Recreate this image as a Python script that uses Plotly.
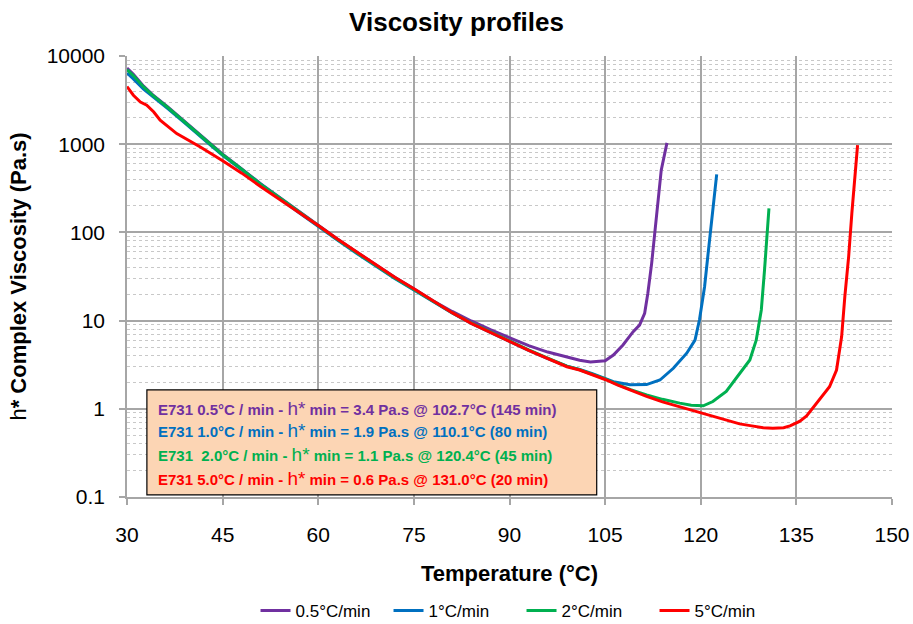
import plotly.graph_objects as go

# ---------------- data ----------------
t_05 = [30, 31, 32.6, 34, 36.3, 39, 41.5, 43, 45, 48, 51, 54, 57, 60, 63, 66, 69, 72, 75,
        78, 81, 84, 87, 90, 93, 96, 98.9, 101, 102.7, 104, 105, 106.3, 107.8, 109.4, 110.4,
        111.2, 111.7, 112.3, 112.8, 113.3, 113.8, 114.7]
eta_05 = [7300, 6200, 4550, 3650, 2680, 1820, 1260, 1010, 770, 525, 355, 248, 172, 119, 84, 60, 43, 31, 23,
          16.8, 12.7, 9.9, 7.9, 6.4, 5.2, 4.4, 3.9, 3.55, 3.4, 3.42, 3.5, 4.07, 5.3, 7.5, 8.9,
          12.1, 20.4, 44.6, 106, 253, 508, 1035]

t_1 = [30, 31, 32.6, 34, 36.3, 39, 41.5, 43, 45, 48, 51, 54, 57, 60, 63, 66, 69, 72, 75,
       78, 81, 84, 87, 90, 93, 96, 99, 101, 103, 105, 106.3, 108.9, 110.1, 111.5, 113.6,
       115.7, 117.8, 119.1, 119.8, 120.6, 121.1, 121.7, 122.1, 122.5]
eta_1 = [6400, 5500, 4200, 3450, 2560, 1760, 1220, 990, 750, 512, 345, 240, 167, 116, 82, 58, 41.5, 30, 22.2,
         16.3, 12.2, 9.3, 7.3, 5.8, 4.6, 3.7, 3.05, 2.8, 2.5, 2.22, 2.03, 1.87, 1.86, 1.88, 2.12,
         2.88, 4.27, 6.0, 10.2, 24.2, 53, 126, 253, 454]

t_2 = [30, 31, 32.6, 34, 36.3, 39, 41.5, 43, 45, 48, 51, 54, 57, 60, 63, 66, 69, 72, 75,
       78, 81, 84, 87, 90, 93, 96, 99, 101, 103, 105, 107, 109, 111.5, 114, 116.7, 118.5,
       120.4, 121.9, 124.0, 126.1, 127.7, 128.7, 129.5, 130.0, 130.4, 130.7]
eta_2 = [7000, 6000, 4460, 3600, 2640, 1800, 1250, 1000, 760, 520, 350, 245, 170, 118, 83, 59, 42, 30.5, 22.5,
         16.5, 12.3, 9.4, 7.4, 5.9, 4.65, 3.75, 3.05, 2.77, 2.47, 2.18, 1.88, 1.65, 1.44, 1.28, 1.16, 1.1,
         1.08, 1.21, 1.57, 2.53, 3.58, 6.0, 13.2, 37, 97.5, 187]

t_5 = [30, 31, 32.1, 33.1, 34.2, 35.2, 37.8, 41.5, 45, 48, 51, 54, 57, 60, 63, 66, 69, 72, 75,
       78, 81, 84, 87, 90, 93, 96, 99, 101, 103, 105, 107, 109, 111.5, 114, 116.7, 119, 121.9,
       124, 126.1, 128, 129.8, 131.3, 133, 134, 135.5, 136.6, 137.7, 138.7, 140.2, 141.3,
       142.1, 142.6, 143.2, 143.7, 144.2, 144.6]
eta_5 = [4500, 3590, 3010, 2770, 2320, 1870, 1320, 930, 650, 470, 330, 236, 167, 120, 84, 60, 43, 31, 23,
         16.7, 12.3, 9.3, 7.3, 5.8, 4.6, 3.7, 3.0, 2.75, 2.45, 2.15, 1.85, 1.62, 1.38, 1.2, 1.06, 0.95, 0.83,
         0.75, 0.675, 0.64, 0.61, 0.60, 0.61, 0.64, 0.72, 0.83, 1.05, 1.32, 1.78, 2.75,
         6.6, 18.7, 53, 164, 466, 975]

series_names = ["0.5°C/min", "1°C/min", "2°C/min", "5°C/min"]
series_colors = ["#7030A0", "#0070C0", "#00B050", "#FF0000"]

x_ticks = [30, 45, 60, 75, 90, 105, 120, 135, 150]
y_ticks = [0.1, 1, 10, 100, 1000, 10000]
y_ticktext = ["0.1", "1", "10", "100", "1000", "10000"]

note_rates = ["0.5", "1.0", " 2.0", "5.0"]
note_eta = ["3.4", "1.9", "1.1", "0.6"]
note_temp = ["102.7", "110.1", "120.4", "131.0"]
note_time = ["145", "80", "45", "20"]

# ---------------- figure ----------------
FONT = "Liberation Sans, Arial, sans-serif"
fig = go.Figure()
for tx, ey, nm, col in zip([t_05, t_1, t_2, t_5], [eta_05, eta_1, eta_2, eta_5],
                           series_names, series_colors):
    fig.add_trace(go.Scatter(x=tx, y=ey, name=nm, mode="lines",
                             line=dict(color=col, width=3)))

# annotation box
fig.add_shape(type="rect", xref="paper", yref="paper",
              x0=0.026, x1=0.614, y0=0.005, y1=0.243,
              fillcolor="#FCD5B4", line=dict(color="black", width=1.2), layer="above")

line_y = [0.2018, 0.150, 0.0975, 0.043]
for i in range(4):
    txt = (f"<b>E731 {note_rates[i]}°C / min - </b>"
           f"<span style='font-size:19px'>h*</span>"
           f"<b> min = {note_eta[i]} Pa.s @ {note_temp[i]}°C ({note_time[i]} min)</b>")
    fig.add_annotation(xref="paper", yref="paper", x=0.0379, y=line_y[i],
                       xanchor="left", yanchor="middle", showarrow=False, text=txt,
                       font=dict(family=FONT, size=15, color=series_colors[i]))

fig.update_layout(
    width=913, height=624,
    margin=dict(l=127, r=21, t=56, b=127, autoexpand=False),
    paper_bgcolor="white", plot_bgcolor="white",
    font=dict(family=FONT, color="black"),
    title=dict(text="<b>Viscosity profiles</b>", x=0.5, xanchor="center",
               y=0.965, yanchor="middle", font=dict(size=26, family=FONT)),
    showlegend=True,
    legend=dict(orientation="h", x=0.168, xanchor="left", y=-0.2585, yanchor="middle",
                font=dict(size=17, family=FONT), itemwidth=30, traceorder="normal",
                entrywidth=88, entrywidthmode="pixels"),
    xaxis=dict(range=[30, 150], tickvals=x_ticks, showgrid=True, gridcolor="#A6A6A6",
               gridwidth=1.5, zeroline=False, ticks="outside", ticklen=6,
               tickcolor="#A6A6A6", tickwidth=1.5, showline=True, linecolor="#A6A6A6",
               linewidth=1.5, tickfont=dict(size=21), ticklabelstandoff=12, automargin=False,
               title=dict(text="<b>Temperature (°C)</b>", font=dict(size=22), standoff=21)),
    yaxis=dict(type="log", range=[-1, 4], tickvals=y_ticks, ticktext=y_ticktext,
               showgrid=True, gridcolor="#A6A6A6", gridwidth=1.5, zeroline=False,
               ticks="outside", ticklen=6, tickcolor="#A6A6A6", tickwidth=1.5,
               showline=True, linecolor="#A6A6A6", linewidth=1.5, automargin=False,
               tickfont=dict(size=21), ticklabelstandoff=10,
               minor=dict(showgrid=True, gridcolor="#C8C8C8", griddash="dot", gridwidth=1,
                          dtick="D1"),
               title=dict(text="<span style='font-weight:normal'>h</span><b>* Complex Viscosity (Pa.s)</b>",
                          font=dict(size=22), standoff=14)),
)

fig.write_html("out.html")
